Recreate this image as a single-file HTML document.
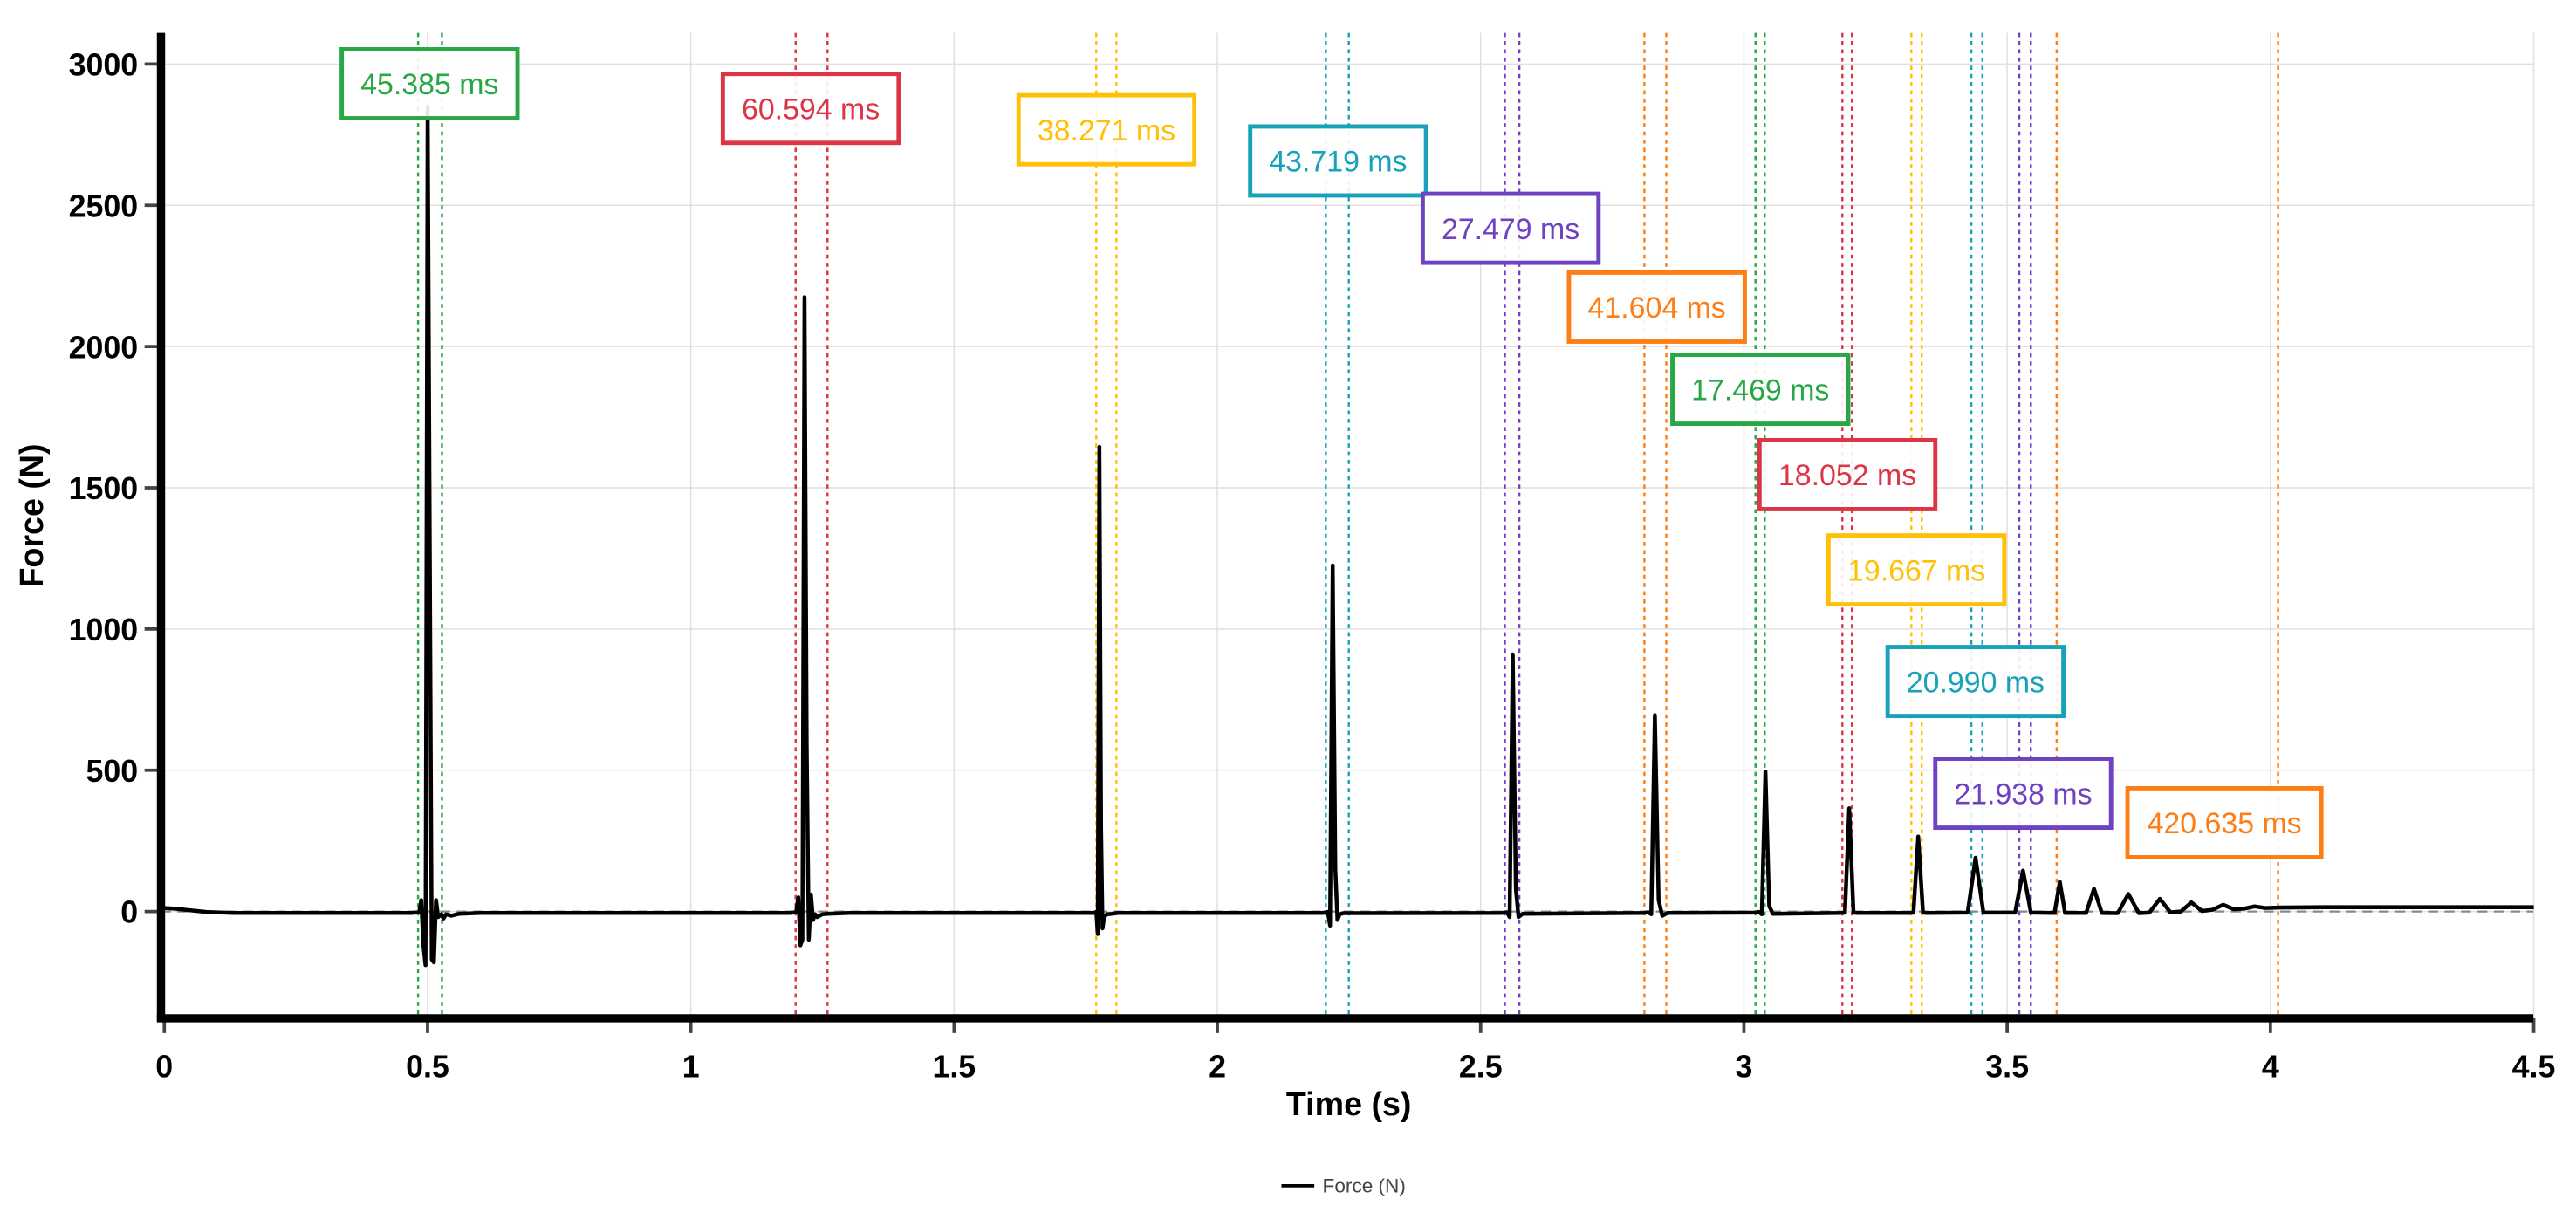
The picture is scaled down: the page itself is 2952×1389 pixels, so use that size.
<!DOCTYPE html>
<html><head><meta charset="utf-8"><style>
html,body{margin:0;padding:0;background:#fff}
svg{display:block}
text{font-family:"Liberation Sans",Arial,sans-serif}
</style></head><body>
<svg id="chart" width="2952" height="1389" viewBox="0 0 1568 738" preserveAspectRatio="none" xmlns="http://www.w3.org/2000/svg">
<g id="grid"></g>
<g id="markers"></g>
<g id="series"></g>
<g id="axes"></g>
<g id="boxes"></g>
<text x="0" y="0" transform="translate(26,314) rotate(-90)" text-anchor="middle" font-weight="bold" font-size="20">Force (N)</text>
<text x="821" y="679" text-anchor="middle" font-weight="bold" font-size="20">Time (s)</text>
<g>
<line x1="780" y1="722" x2="800" y2="722" stroke="#000" stroke-width="2"/>
<text x="805" y="726" font-size="12" fill="#444">Force (N)</text>
</g>
</svg>
<script>
const xTicks=[0,0.5,1,1.5,2,2.5,3,3.5,4,4.5];
const xTickLabels=["0","0.5","1","1.5","2","2.5","3","3.5","4","4.5"];
const yTicks=[0,500,1000,1500,2000,2500,3000];
const yTickLabels=["0","500","1000","1500","2000","2500","3000"];
const sigT=[0,0.02,0.08,0.13,0.47,
0.484,0.488,0.492,0.496,0.5,0.504,0.508,0.512,0.516,0.52,0.526,0.53,0.535,0.545,0.56,0.6,
1.19,1.2,1.204,1.208,1.212,1.216,1.22,1.224,1.228,1.232,1.236,1.24,1.25,1.26,1.3,
1.765,1.77,1.773,1.776,1.779,1.782,1.785,1.79,1.8,1.81,
2.2,2.21,2.214,2.219,2.224,2.228,2.232,2.24,
2.54,2.55,2.555,2.561,2.567,2.572,2.58,
2.81,2.818,2.824,2.831,2.838,2.845,2.855,
3.02,3.028,3.034,3.041,3.048,3.055,
3.185,3.192,3.2,3.208,3.215,
3.315,3.322,3.331,3.34,3.347,
3.425,3.44,3.455,
3.515,3.53,3.545,
3.59,3.6,3.61,
3.65,3.665,3.68,
3.71,3.73,3.75,
3.77,3.79,3.81,
3.83,3.85,3.87,
3.89,3.91,3.93,
3.95,3.97,3.99,
4.02,4.1,4.5];
const sigF=[12,10,-2,-5,-5,
-3,40,-120,-190,2850,1400,-170,-180,40,-20,-10,-25,-10,-15,-8,-5,
-5,-2,50,-120,-100,2175,600,-100,60,-30,-10,-20,-10,-8,-5,
-5,-2,-80,1645,300,-60,-20,-10,-8,-5,
-5,-2,-50,1225,150,-30,-10,-6,
-5,-3,-20,910,80,-20,-8,
-5,-3,-10,695,40,-15,-5,
-4,-2,-10,495,20,-8,
-5,-4,365,-4,-5,
-5,-4,265,-4,-5,
-4,190,-4,
-4,145,-4,
-5,105,-5,
-5,80,-5,
-6,62,-6,
-4,45,-3,
0,32,2,
6,24,8,
10,18,12,
14,15,15];
const tickMarkT=[0.482,0.5274,1.199,1.2596,1.770,1.8083,2.206,2.2497,2.546,2.5735,2.811,2.8526,3.022,3.0395,3.187,3.2051,3.318,3.3377,3.432,3.4530,3.523,3.5449,3.594,4.0146];
const markerColors=["#28a745","#dc3545","#ffc107","#17a2b8","#6f42c1","#fd7e14","#28a745","#dc3545","#ffc107","#17a2b8","#6f42c1","#fd7e14"];
const intervalLabels=["45.385 ms","60.594 ms","38.271 ms","43.719 ms","27.479 ms","41.604 ms","17.469 ms","18.052 ms","19.667 ms","20.990 ms","21.938 ms","420.635 ms"];
// layout only (label box top-left positions)
const boxX=[208,440,620,761,866,955,1018,1071,1113,1149,1178,1295];
const boxY=[30,45,58,77,118,166,216,268,326,394,462,480];

const NS="http://www.w3.org/2000/svg";
const X0=100,XS=320.5,Y0=555,YS=86/500,TOP=20,BOT=620,LEFT=98,RIGHT=1542;
const sx=t=>X0+t*XS, sy=f=>Y0-f*YS;
function mk(tag,attrs,parent){const e=document.createElementNS(NS,tag);for(const k in attrs)e.setAttribute(k,attrs[k]);parent.appendChild(e);return e;}
const grid=document.getElementById('grid'),axes=document.getElementById('axes'),series=document.getElementById('series'),markers=document.getElementById('markers'),boxes=document.getElementById('boxes');
xTicks.forEach((t,i)=>{
  const g=mk('line',{x1:sx(t),x2:sx(t),y1:TOP,y2:BOT,stroke:'#e0e0e0','stroke-width':0.8},grid);
  
  
  const tk=mk('line',{x1:sx(t),x2:sx(t),y1:BOT,y2:BOT+9,stroke:'#444','stroke-width':2},axes);
  
  
  const tx=mk('text',{x:sx(t),y:656,'text-anchor':'middle','font-weight':'bold','font-size':19},axes);
  tx.textContent=xTickLabels[i];
  
  
});
yTicks.forEach((v,i)=>{
  const g=mk('line',{x1:LEFT,x2:RIGHT,y1:sy(v),y2:sy(v),stroke:'#e0e0e0','stroke-width':0.8},grid);
  
  
  const tk=mk('line',{x1:LEFT-10,x2:LEFT,y1:sy(v),y2:sy(v),stroke:'#444','stroke-width':2},axes);
  
  
  const tx=mk('text',{x:LEFT-14,y:sy(v)+7,'text-anchor':'end','font-weight':'bold','font-size':19},axes);
  tx.textContent=yTickLabels[i];
  
  
});
const zl=mk('line',{x1:LEFT,x2:RIGHT,y1:sy(0),y2:sy(0),stroke:'#888','stroke-width':1.2,'stroke-dasharray':'6,4'},grid);


tickMarkT.forEach((t,i)=>{
  const l=mk('line',{x1:sx(t),x2:sx(t),y1:TOP,y2:BOT,stroke:markerColors[Math.floor(i/2)],'stroke-width':1.3,'stroke-dasharray':'2.5,2.5'},markers);
  
  
});
let d=sigT.map((t,i)=>(i?'L':'M')+sx(t).toFixed(1)+','+sy(sigF[i]).toFixed(1)).join(' ');
const p=mk('path',{d:d,fill:'none',stroke:'#000','stroke-width':2.4,'stroke-linejoin':'round'},series);


const ya=mk('line',{x1:LEFT,x2:LEFT,y1:TOP,y2:BOT+2,stroke:'#000','stroke-width':5},axes);


const xa=mk('line',{x1:LEFT-2.5,x2:RIGHT,y1:BOT,y2:BOT,stroke:'#000','stroke-width':5},axes);


intervalLabels.forEach((s,i)=>{
  const w=s.length>9?118:107;
  const g=mk('g',{},boxes);
  
  
  mk('rect',{x:boxX[i],y:boxY[i],width:w,height:42,fill:'#fff','fill-opacity':0.9,stroke:markerColors[i],'stroke-width':2.6},g);
  const t=mk('text',{x:boxX[i]+w/2,y:boxY[i]+27.5,'text-anchor':'middle','font-size':18,fill:markerColors[i]},g);
  t.textContent=s;
});
</script>
</body></html>
